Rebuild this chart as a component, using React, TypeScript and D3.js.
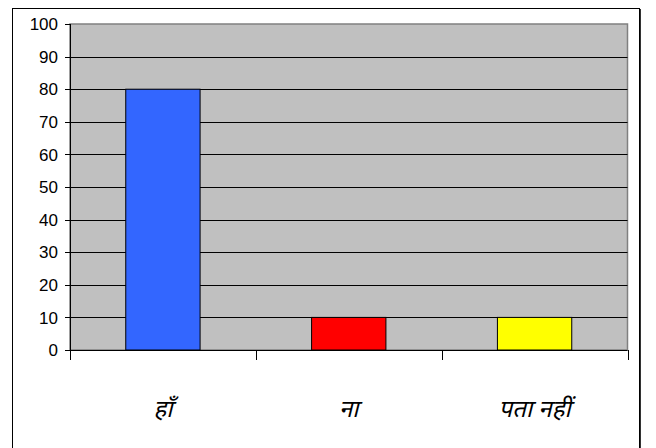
import React from "react";
import * as d3 from "d3";

// Survey answers and the share of respondents for each
const categories: string[] = ["हाँ", "ना", "पता नहीं"];
const values: number[] = [80, 10, 10];
const barColors: string[] = ["#3366FF", "#FF0000", "#FFFF00"];
const yTicks: number[] = [0, 10, 20, 30, 40, 50, 60, 70, 80, 90, 100];

const W = 656;
const H = 448;
const plot = { left: 70, top: 24, right: 627.5, bottom: 350 };

export default function App() {
  const x = d3
    .scaleBand<string>()
    .domain(categories)
    .range([plot.left, plot.right])
    .paddingInner(0.6)
    .paddingOuter(0.3);
  const band = d3.scaleBand<string>().domain(categories).range([plot.left, plot.right]);
  const y = d3.scaleLinear().domain([0, 100]).range([plot.bottom, plot.top]);
  const num = "Arial, 'Liberation Sans', sans-serif";

  return (
    <svg
      width={W}
      height={H}
      style={{ position: "absolute", left: 0, top: 0, background: "#fff" }}
    >
      {/* chart frame */}
      <rect x={12.5} y={8.5} width={627} height={460} fill="#fff" stroke="#000" strokeWidth={1} />
      <line x1={640.5} y1={9} x2={640.5} y2={H} stroke="#333" strokeWidth={1} />

      {/* plot area */}
      <rect
        x={plot.left}
        y={plot.top}
        width={plot.right - plot.left}
        height={plot.bottom - plot.top}
        fill="#C0C0C0"
        stroke="#808080"
        strokeWidth={1.5}
      />

      {/* horizontal gridlines */}
      {yTicks
        .filter((t) => t > 0 && t < 100)
        .map((t) => (
          <line
            key={t}
            x1={plot.left}
            x2={plot.right}
            y1={Math.round(y(t)) + 0.5}
            y2={Math.round(y(t)) + 0.5}
            stroke="#000"
            strokeWidth={1}
          />
        ))}

      {/* bars */}
      {categories.map((c, i) => (
        <rect
          key={c}
          x={x(c)}
          y={y(values[i])}
          width={x.bandwidth()}
          height={y(0) - y(values[i])}
          fill={barColors[i]}
          stroke="#000"
          strokeWidth={1}
        />
      ))}

      {/* y axis */}
      <line x1={plot.left + 0.5} x2={plot.left + 0.5} y1={plot.top} y2={plot.bottom} stroke="#000" />
      {yTicks.map((t) => (
        <g key={t}>
          <line
            x1={plot.left - 5}
            x2={plot.left}
            y1={Math.round(y(t)) + 0.5}
            y2={Math.round(y(t)) + 0.5}
            stroke="#000"
          />
          <text
            x={plot.left - 12}
            y={y(t)}
            dy="0.36em"
            textAnchor="end"
            fontFamily={num}
            fontSize={17}
            fill="#000"
          >
            {t}
          </text>
        </g>
      ))}

      {/* x axis */}
      <line x1={plot.left} x2={plot.right} y1={plot.bottom + 0.5} y2={plot.bottom + 0.5} stroke="#000" />
      {[...categories.map((c) => band(c) as number), plot.right].map((px, i) => (
        <line
          key={i}
          x1={Math.round(px) + 0.5}
          x2={Math.round(px) + 0.5}
          y1={plot.bottom}
          y2={plot.bottom + 10}
          stroke="#000"
        />
      ))}
      {categories.map((c) => (
        <text
          key={c}
          transform={`translate(${(band(c) as number) + band.bandwidth() / 2},417) skewX(-14)`}
          textAnchor="middle"
          fontFamily="'Noto Sans', 'DejaVu Sans', sans-serif"
          fontStyle="italic"
          fontSize={24}
          fill="#000"
        >
          {c}
        </text>
      ))}
    </svg>
  );
}
